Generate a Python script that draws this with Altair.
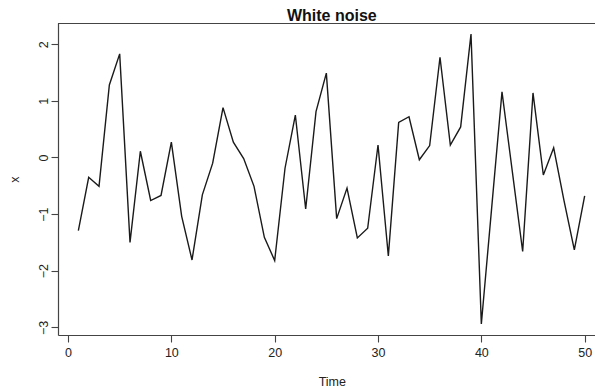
import altair as alt
import pandas as pd

# Simulated white-noise series, one value per time step
time = list(range(1, 51))
values = [
    -1.29, -0.35, -0.51, 1.28, 1.83, -1.50, 0.11, -0.76, -0.67, 0.27,
    -1.04, -1.81, -0.66, -0.10, 0.88, 0.27, -0.02, -0.51, -1.41, -1.82,
    -0.19, 0.75, -0.91, 0.81, 1.49, -1.08, -0.54, -1.42, -1.25, 0.22,
    -1.74, 0.62, 0.72, -0.04, 0.21, 1.77, 0.22, 0.54, 2.18, -2.94,
    -0.89, 1.16, -0.25, -1.66, 1.14, -0.31, 0.17, -0.76, -1.63, -0.68,
]
x_ticks = [0, 10, 20, 30, 40, 50]
y_ticks = [-3, -2, -1, 0, 1, 2]
title_text = "White noise"

df = pd.DataFrame({"Time": time, "x": values})

FONT = "Liberation Sans"
W, H = 537, 312

line = alt.Chart(df).mark_line(color="#1a1a1a", strokeWidth=1.4).encode(
    x=alt.X(
        "Time:Q",
        scale=alt.Scale(domain=[-0.97, 51.0], nice=False, zero=False),
        axis=alt.Axis(
            values=x_ticks, grid=False, tickSize=7, tickColor="#444",
            domainColor="#444", domainWidth=1.2, tickWidth=1.1,
            labelFont=FONT, labelFontSize=12.5, labelColor="#222",
            labelPadding=4, labelBaseline="top",
            title="Time", titleFont=FONT, titleFontSize=12.5,
            titleFontWeight="normal", titleColor="#222",
            titleX=273.8, titleY=50, titleAlign="center",
            titleBaseline="alphabetic",
        ),
    ),
    y=alt.Y(
        "x:Q",
        scale=alt.Scale(domain=[-3.135, 2.375], nice=False, zero=False),
        axis=alt.Axis(
            values=y_ticks, grid=False, tickSize=7, tickColor="#444",
            domainColor="#444", domainWidth=1.2, tickWidth=1.1,
            labelFont=FONT, labelFontSize=12.5, labelColor="#222",
            labelAngle=270, labelAlign="center", labelBaseline="alphabetic",
            labelPadding=4,
            title="x", titleFont=FONT, titleFontSize=12.5,
            titleFontWeight="normal", titleColor="#222",
            titleAngle=270, titleX=-39.7, titleY=156,
            titleAlign="center", titleBaseline="alphabetic",
        ),
    ),
)

# top edge of the frame box
frame_top = alt.Chart(df).mark_rule(color="#444", strokeWidth=1.2).encode(
    x=alt.value(0), x2=alt.value(W), y=alt.value(0.5)
)

# main title, centred over the full plotting region
title = alt.Chart(pd.DataFrame({"t": [title_text]})).mark_text(
    font=FONT, fontSize=16, fontWeight="bold", color="#111",
    align="center", baseline="alphabetic",
).encode(text="t:N", x=alt.value(273.8), y=alt.value(-2.5))

chart = (
    alt.layer(line, frame_top, title)
    .properties(
        width=W,
        height=H,
        autosize=alt.AutoSizeParams(type="none"),
        padding={"left": 58, "top": 23, "right": 0, "bottom": 52},
    )
    .configure_view(stroke=None)
    .configure(background="white")
)

chart.save("out.html", embed_options={"renderer": "svg", "actions": False})
